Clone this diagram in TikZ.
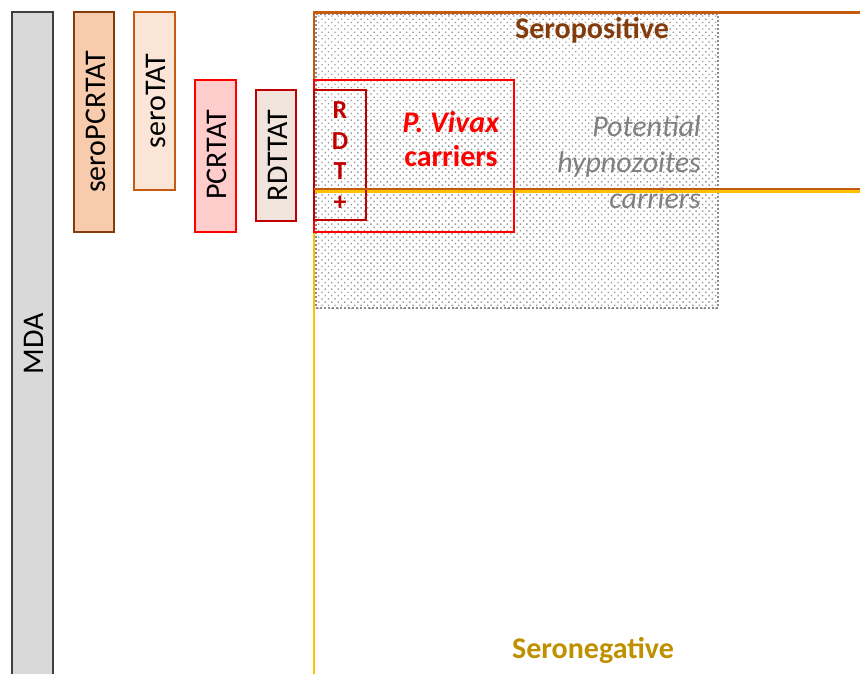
\documentclass[tikz,border=0pt]{standalone}
\usepackage{fontspec}
\setmainfont{Carlito}
\usetikzlibrary{patterns.meta}
\definecolor{mdafill}{HTML}{D9D9D9}
\definecolor{mdaline}{HTML}{404040}
\definecolor{spfill}{HTML}{F8CBAD}
\definecolor{spline}{HTML}{843C0C}
\definecolor{stfill}{HTML}{FBE5D6}
\definecolor{stline}{HTML}{C55A11}
\definecolor{pcrfill}{HTML}{FFCCCC}
\definecolor{rdtfill}{HTML}{F0E4DC}
\definecolor{darkred}{HTML}{C00000}
\definecolor{posline}{HTML}{C55A11}
\definecolor{postext}{HTML}{843C0C}
\definecolor{negline}{HTML}{FFC000}
\definecolor{negtext}{HTML}{BF9000}
\definecolor{hypno}{HTML}{808080}
\begin{document}
\begin{tikzpicture}[x=1pt,y=-1pt,
  bar/.style={draw, line width=1.8pt, inner sep=0pt, outer sep=0pt},
  vlabel/.style={rotate=90, font=\fontsize{30}{33}\selectfont, inner sep=0pt},
  big/.style={inner sep=0pt, align=center}]
\useasboundingbox (0,0) rectangle (860,673);
\clip (0,0) rectangle (860,673);
% dotted potential region
\node[draw=gray!90, dash pattern=on 2pt off 2pt, line width=2.4pt,
  pattern={Dots[distance=4.6pt, radius=1pt, angle=45]}, pattern color=gray!80,
  minimum width=402, minimum height=294, inner sep=0pt] (pot) at (517,161) {};
% group lines
\coordinate (pr) at (870,12.5);
\coordinate (ptl) at (314,12.5);
\coordinate (pbl) at (314,189);
\coordinate (pbr) at (870,189);
\coordinate (ntl) at (314,191.5);
\coordinate (ntr) at (870,191.5);
\coordinate (nb) at (314,680);
\draw[posline, line width=2.5pt] (pr) -- (ptl) -- (pbl) -- (pbr);
\draw[negline, line width=2.5pt] (ntr) -- (ntl) -- (nb);
% left bars
\node[bar, draw=mdaline, fill=mdafill, minimum width=41, minimum height=700] (mda) at (32.5,362) {};
\node[vlabel] (mdat) at (34,344) {MDA};
\node[bar, draw=spline, fill=spfill, minimum width=40, minimum height=220] (sp) at (94,122) {};
\node[vlabel] (spt) at (95.5,122) {seroPCRTAT};
\node[bar, draw=stline, fill=stfill, minimum width=41, minimum height=178] (st) at (154.5,101) {};
\node[vlabel] (stt) at (156,101) {seroTAT};
\node[bar, draw=red, fill=pcrfill, minimum width=41, minimum height=152] (pcr) at (215.5,156) {};
\node[vlabel] (pcrt) at (217,155) {PCRTAT};
\node[bar, draw=darkred, fill=rdtfill, minimum width=40, minimum height=131] (rdt) at (276,155.5) {};
\node[vlabel] (rdtt) at (277.5,155.5) {RDTTAT};
% red boxes
\node[draw=red, line width=2.5pt, minimum width=200, minimum height=152, inner sep=0pt] (pv) at (414,156) {};
\node[draw=darkred, line width=1.5pt, minimum width=52, minimum height=130, inner sep=0pt] (rdtp) at (340,155) {};
% texts
\node[big, text=postext, font=\fontsize{30}{34}\selectfont\bfseries] (sero) at (592,30) {Seropositive};
\node[big, text=negtext, font=\fontsize{30}{34}\selectfont\bfseries] (neg) at (593,650) {Seronegative};
\node[big, text=red, font=\fontsize{30}{34}\selectfont\bfseries] (pvt) at (451,139) {\textit{P. Vivax}\\carriers};
\node[big, text=hypno, font=\fontsize{30}{36}\selectfont\itshape, align=right, anchor=east] (hyp) at (701,162) {Potential\\hypnozoites\\carriers};
\node[big, text=darkred, font=\fontsize{26}{30.5}\selectfont\bfseries] (rdtpt) at (340,156) {R\\D\\T\\+};
% redraw seropositive bottom line over text
\draw[posline, line width=2.5pt] (pbl) -- (pbr);
\end{tikzpicture}
\end{document}
